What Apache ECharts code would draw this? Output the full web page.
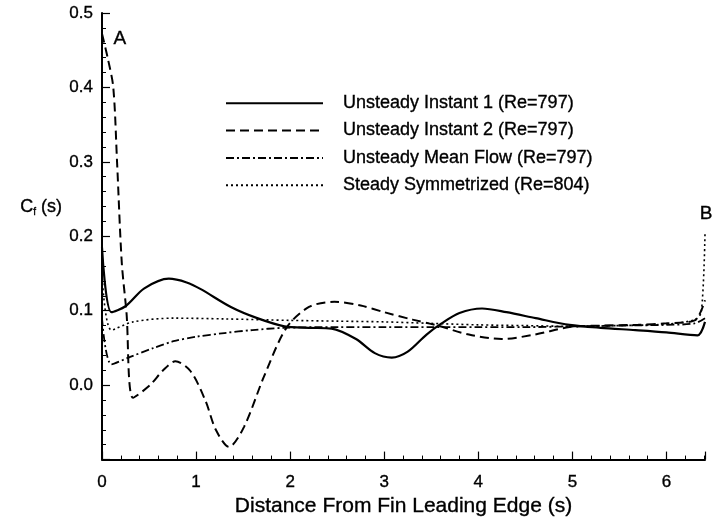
<!DOCTYPE html>
<html><head><meta charset="utf-8">
<script src="https://cdn.jsdelivr.net/npm/echarts@6/dist/echarts.min.js"></script>
<style>html,body{margin:0;padding:0;background:#fff}#c{width:714px;height:522px}</style>
</head><body><div id="c"></div>
<script>
var seriesNames = ['Unsteady Instant 1 (Re=797)','Unsteady Instant 2 (Re=797)','Unsteady Mean Flow (Re=797)','Steady Symmetrized (Re=804)'];
var xTickLabels = ['0','1','2','3','4','5','6'];
var yTickLabels = ['0.0','0.1','0.2','0.3','0.4','0.5'];

var instant1X = [0,0.10,0.25,0.45,0.71,0.9,1.05,1.37,1.65,1.94,2.2,2.44,2.7,2.9,3.08,3.25,3.45,3.61,3.8,4.04,4.3,4.61,4.97,5.3,5.67,6.0,6.33,6.41];
var instant1Y = [0.185,0.098,0.106,0.13,0.143,0.138,0.129,0.105,0.09,0.079,0.077,0.076,0.062,0.043,0.037,0.045,0.068,0.083,0.097,0.103,0.098,0.09,0.081,0.077,0.074,0.071,0.067,0.085];

var instant2X = [0,0.06,0.12,0.16,0.21,0.26,0.33,0.51,0.65,0.78,0.94,1.1,1.21,1.35,1.51,1.72,1.96,2.2,2.47,2.75,3.0,3.3,3.54,3.9,4.25,4.6,4.97,5.3,5.7,6.0,6.3,6.41];
var instant2Y = [0.472,0.44,0.40,0.30,0.165,0.098,-0.017,0.0,0.02,0.032,0.019,-0.021,-0.06,-0.083,-0.056,0.011,0.077,0.105,0.112,0.107,0.098,0.088,0.081,0.068,0.062,0.068,0.078,0.08,0.081,0.083,0.087,0.114];

var meanX = [0,0.10,0.3,0.55,0.76,1.0,1.3,1.6,1.93,2.5,3.0,3.5,4.0,4.5,5.0,5.5,6.0,6.3,6.41];
var meanY = [0.09,0.028,0.038,0.05,0.059,0.065,0.07,0.074,0.077,0.078,0.078,0.078,0.078,0.078,0.079,0.08,0.081,0.083,0.09];

var steadyX = [0,0.1,0.33,0.76,1.3,2.0,2.5,3.0,3.5,4.0,4.5,5.0,5.5,6.0,6.3,6.37,6.41];
var steadyY = [0.15,0.074,0.085,0.09,0.089,0.087,0.086,0.085,0.083,0.081,0.08,0.079,0.08,0.082,0.088,0.098,0.204];

var labelA = {text:'A', x:0.19, y:0.465};
var labelB = {text:'B', x:6.41, y:0.23};

function pairs(xs, ys){ return xs.map(function(x,i){ return [x, ys[i]]; }); }

var FONT = '"Liberation Sans", Arial, Helvetica, sans-serif';
var HEAVY = {textBorderColor:'#000', textBorderWidth:0.35};
var chart = echarts.init(document.getElementById('c'), null, {renderer:'canvas'});

var styles = [
  {type:'solid', width:2.2},
  {type:[9,5], width:2},
  {type:[8,3,2,3], width:1.8},
  {type:[2,3], width:1.6}
];
var datas = [pairs(instant1X,instant1Y), pairs(instant2X,instant2Y), pairs(meanX,meanY), pairs(steadyX,steadyY)];

var series = seriesNames.map(function(n,i){
  return {
    name:n, type:'line', data:datas[i], showSymbol:false, symbol:'none',
    smooth:0.3, animation:false,
    lineStyle:{color:'#000', width:styles[i].width, type:styles[i].type},
    itemStyle:{color:'#000'}
  };
});
function mp(l, off){
  return {
    symbol:'circle', symbolSize:1, silent:true, animation:false,
    itemStyle:{color:'rgba(0,0,0,0)'},
    label:Object.assign({show:true, position:'inside', formatter:l.text, color:'#000', fontSize:19, fontFamily:FONT, offset:off}, HEAVY),
    data:[{coord:[l.x, l.y]}]
  };
}
series[1].markPoint = mp(labelA, [0,0]);
series[3].markPoint = mp(labelB, [1,0]);

chart.setOption({
  backgroundColor:'#fff',
  animation:false,
  grid:{left:102, right:9, top:13, bottom:56, containLabel:false},
  legend:{
    data:seriesNames, orient:'vertical', left:220, top:89,
    itemWidth:97, itemHeight:14, itemGap:9,
    itemStyle:{color:'rgba(0,0,0,0)', borderWidth:0, opacity:0},
    textStyle:Object.assign({color:'#000', fontSize:18, fontFamily:FONT, padding:[0,0,0,15]}, HEAVY),
    selectedMode:false
  },
  xAxis:{
    type:'value', min:0, max:6.41, interval:1,
    name:'Distance From Fin Leading Edge (s)', nameLocation:'middle', nameGap:29,
    nameTextStyle:Object.assign({color:'#000', fontSize:21, fontFamily:FONT}, HEAVY),
    axisLine:{show:true, onZero:false, lineStyle:{color:'#000', width:2}},
    axisTick:{show:true, inside:true, length:8, lineStyle:{color:'#000', width:1.2}},
    minorTick:{show:true, splitNumber:5, length:4, lineStyle:{color:'#000', width:1}},
    splitLine:{show:false},
    axisLabel:Object.assign({color:'#000', fontSize:17, fontFamily:FONT, margin:14, showMaxLabel:false,
      formatter:function(v){ var i = Math.round(v); return Math.abs(v-i)<1e-6 && i>=0 && i<xTickLabels.length ? xTickLabels[i] : ''; }}, HEAVY)
  },
  yAxis:{
    type:'value', min:-0.1, max:0.5, interval:0.1,
    axisLine:{show:true, onZero:false, lineStyle:{color:'#000', width:2}},
    axisTick:{show:true, inside:true, length:8, lineStyle:{color:'#000', width:1.2}},
    minorTick:{show:true, splitNumber:5, length:4, lineStyle:{color:'#000', width:1}},
    splitLine:{show:false},
    axisLabel:Object.assign({color:'#000', fontSize:17, fontFamily:FONT, margin:9,
      formatter:function(v){ var i = Math.round(v*10); return (i>=0 && i<yTickLabels.length) ? yTickLabels[i] : ''; }}, HEAVY)
  },
  graphic:[{
    type:'text', left:20, top:198,
    style:{
      text:'{a|C}{b|f}{a| (s)}',
      fill:'#000', stroke:'#000', lineWidth:0.35,
      rich:{
        a:{fontSize:18, fontFamily:FONT},
        b:{fontSize:10, fontFamily:FONT, padding:[10,0,0,0]}
      }
    }
  }],
  series:series
});
</script>
</body></html>
